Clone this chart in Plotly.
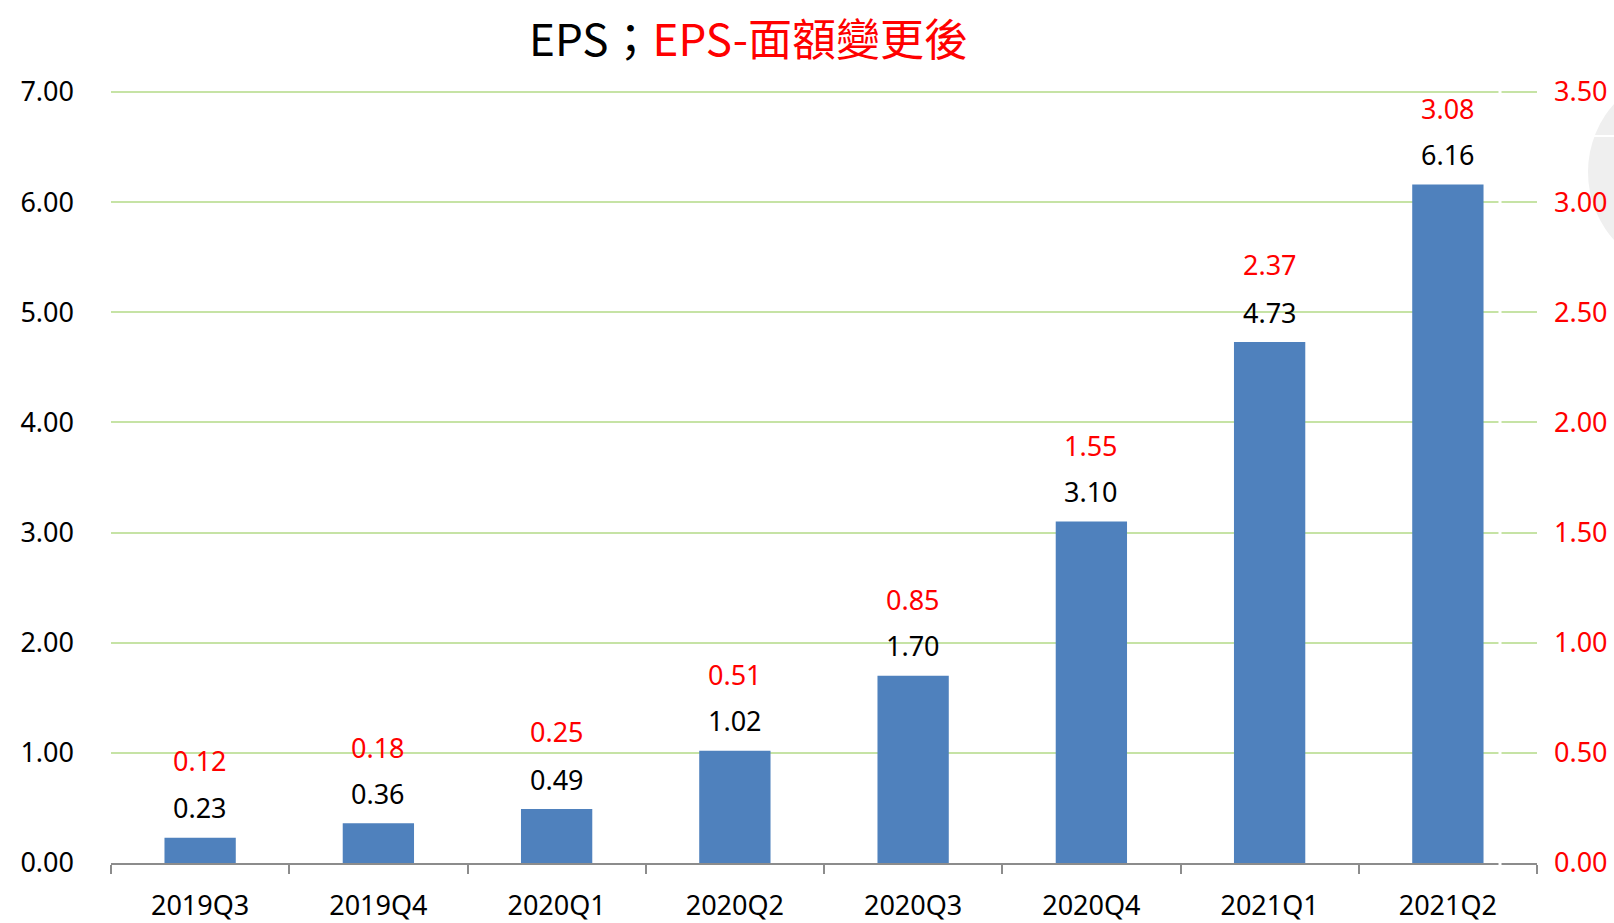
import plotly.graph_objects as go

categories = ["2019Q3", "2019Q4", "2020Q1", "2020Q2", "2020Q3", "2020Q4", "2021Q1", "2021Q2"]
eps = [0.23, 0.36, 0.49, 1.02, 1.70, 3.10, 4.73, 6.16]
eps_adjusted = [0.12, 0.18, 0.25, 0.51, 0.85, 1.55, 2.37, 3.08]
left_ticks = [0, 1, 2, 3, 4, 5, 6, 7]
right_ticks = [0, 0.5, 1.0, 1.5, 2.0, 2.5, 3.0, 3.5]

FONT = "Noto Sans, Open Sans, sans-serif"
W, H = 1614, 923
L, R, B = 111, 1537, 863  # plot area in pixels
Y7 = 92                  # pixel row of the 7.00 gridline
T = 86                   # top of plot area (a little above 7.00 so that gridline shows)
unit = (B - Y7) / 7.0
ytop = 7.0 + (Y7 - T) / unit


def px(x):
    return (x - L) / (R - L)


def py(y):
    return (B - y) / (B - T)


fig = go.Figure()
fig.add_trace(go.Bar(x=categories, y=eps, marker=dict(color="#4f81bd", line=dict(width=0)),
                     width=0.4, yaxis="y", showlegend=False, hoverinfo="x+y"))
fig.add_trace(go.Scatter(x=categories, y=eps_adjusted, mode="markers", marker=dict(opacity=0),
                         yaxis="y2", showlegend=False, hoverinfo="x+y"))

annotations = []
for c, v in zip(categories, eps):
    annotations.append(dict(x=c, y=v, xref="x", yref="y", text=f"{v:.2f}", showarrow=False,
                            yanchor="middle", yshift=30,
                            font=dict(family=FONT, size=27, color="black")))
for c, v in zip(categories, eps_adjusted):
    annotations.append(dict(x=c, y=v, xref="x", yref="y2", text=f"{v:.2f}", showarrow=False,
                            yanchor="middle", yshift=76,
                            font=dict(family=FONT, size=27, color="red")))
annotations.append(dict(x=px(748), y=py(37), xref="paper", yref="paper", xanchor="center",
                        yanchor="middle", showarrow=False,
                        text="EPS；<span style='color:#ff0000'>EPS-面額變更後</span>",
                        font=dict(family="Noto Sans CJK TC, Noto Sans, sans-serif", size=44, color="black")))

shapes = [
    dict(type="circle", xref="paper", yref="paper", layer="below",
         x0=px(1690 - 102), x1=px(1690 + 102), y0=py(172 + 102), y1=py(172 - 102),
         fillcolor="#efefef", line=dict(width=0)),
    dict(type="line", xref="paper", yref="paper", layer="below",
         x0=px(1588), x1=px(1620), y0=py(136), y1=py(136), line=dict(color="white", width=2)),
    dict(type="line", xref="paper", yref="paper", layer="above",
         x0=px(1500), x1=px(1500), y0=py(875), y1=py(85), line=dict(color="white", width=3)),
]

fig.update_layout(
    width=W, height=H,
    margin=dict(l=L, r=W - R, t=T, b=H - B, autoexpand=False),
    paper_bgcolor="white", plot_bgcolor="rgba(0,0,0,0)",
    bargap=0.6,
    xaxis=dict(type="category", showgrid=False, showline=True, linecolor="#8c8c8c", linewidth=1.5,
               ticks="outside", tickson="boundaries", ticklen=9, tickcolor="#8c8c8c", tickwidth=1.5,
               tickfont=dict(family=FONT, size=27, color="black"), ticklabelstandoff=18,
               automargin=False),
    yaxis=dict(range=[0, ytop], tickvals=left_ticks, ticktext=[f"{t:.2f}" for t in left_ticks],
               showgrid=True, gridcolor="#c6e3a5", gridwidth=2, zeroline=False, showline=False,
               tickfont=dict(family=FONT, size=27, color="black"), ticklabelstandoff=36,
               automargin=False),
    yaxis2=dict(range=[0, ytop / 2], overlaying="y", side="right", tickvals=right_ticks,
                ticktext=[f"{t:.2f}" for t in right_ticks], showgrid=False, zeroline=False, showline=False,
                tickfont=dict(family=FONT, size=27, color="#ff0000"), ticklabelstandoff=16,
                automargin=False),
    annotations=annotations,
    shapes=shapes,
)

fig.write_html("out.html", config={"displayModeBar": False},
               post_script="document.body.style.margin='0';document.body.style.overflow='hidden';")
